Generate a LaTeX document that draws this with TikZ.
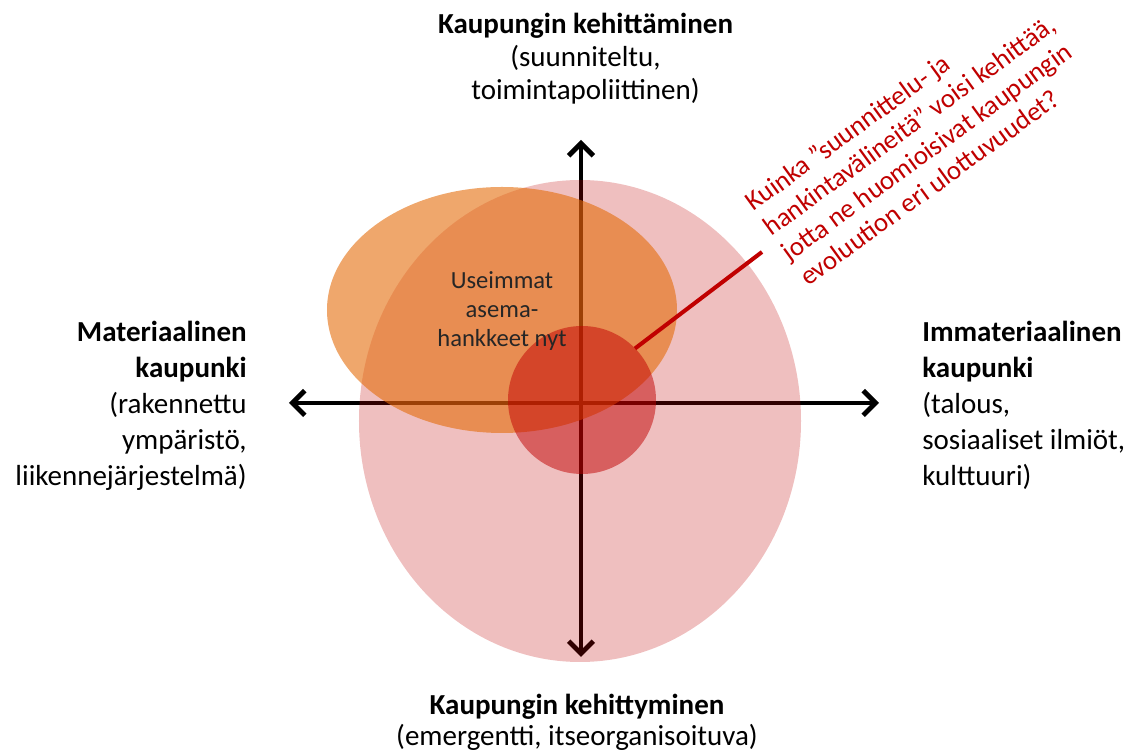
\documentclass[tikz,border=0pt]{standalone}
\usepackage{fontspec}
\setmainfont{Carlito}
\usepackage{tikz}
\usetikzlibrary{arrows.meta}

\definecolor{punainen}{RGB}{192,0,0}
\definecolor{oranssi}{RGB}{228,108,10}

\tikzset{
	akseli/.style={line width=2.8pt, {Straight Barb[length=7pt,width=14pt]}-{Straight Barb[length=7pt,width=14pt]}},
	teksti/.style={font=\fontsize{16.5}{20.5}\selectfont, inner sep=0pt},
	kysymys/.style={font=\fontsize{15.3}{17.6}\selectfont, text=punainen, align=left, inner sep=0pt},
}

\begin{document}
\begin{tikzpicture}
		\useasboundingbox (-11.62,-7.02) rectangle (11.10,8.06);
		
		\coordinate (ylos) at (0, 5.26);
		\coordinate (alas) at (0, -5.08);
		\coordinate (vasen) at (-5.84, 0);
		\coordinate (oikea) at (5.96, 0);
		
		\draw[akseli] (alas) -- (ylos);
		\draw[akseli] (vasen) -- (oikea);
		
		\fill[punainen, fill opacity=0.25] (-0.02,-0.36) ellipse (4.42 and 4.82);
		\fill[oranssi, fill opacity=0.6] (-1.58,1.86) ellipse (3.5 and 2.46);
		\fill[punainen, fill opacity=0.5] (0.02,0.06) circle (1.48);
		
		
		\node[teksti, font=\fontsize{16.5}{18.8}\selectfont, align=center, anchor=north] (kehittaminen) at (0.09, 7.8)
			{\textbf{Kaupungin kehittäminen}\\(suunniteltu,\\toimintapoliittinen)};
		\node[teksti, font=\fontsize{16.5}{17.4}\selectfont, align=center, anchor=north] (kehittyminen) at (-0.08, -5.82)
			{\textbf{Kaupungin kehittyminen}\\(emergentti, itseorganisoituva)};
		\node[teksti, align=right, anchor=north east] (materiaalinen) at (-6.68, 1.64)
			{\textbf{Materiaalinen}\\\textbf{kaupunki}\\(rakennettu\\ympäristö,\\liikennejärjestelmä)};
		\node[teksti, align=left, anchor=north west] (immateriaalinen) at (6.82, 1.64)
			{\textbf{Immateriaalinen}\\\textbf{kaupunki}\\(talous,\\sosiaaliset ilmiöt,\\kulttuuri)};
		
		\node[teksti, font=\fontsize{14}{16.6}\selectfont, text=black!85, align=center] (useimmat) at (-1.58, 1.84)
			{Useimmat\\asema-\\hankkeet nyt};
		
		\coordinate (alku) at (1.08, 1.09);
		\coordinate (loppu) at (3.62, 3.02);
		\draw[punainen, line width=2.3pt] (alku) -- (loppu);
		
		\node[kysymys, rotate=36, anchor=north west] (kuinka) at (3.22, 4.13)
			{Kuinka ”suunnittelu- ja\\hankintavälineitä” voisi kehittää,\\jotta ne huomioisivat kaupungin\\evoluution eri ulottuvuudet?};
		
		%\draw[blue] (-11.62,-7.02) rectangle (11.10,8.06);
		
	\end{tikzpicture}
\end{document}
